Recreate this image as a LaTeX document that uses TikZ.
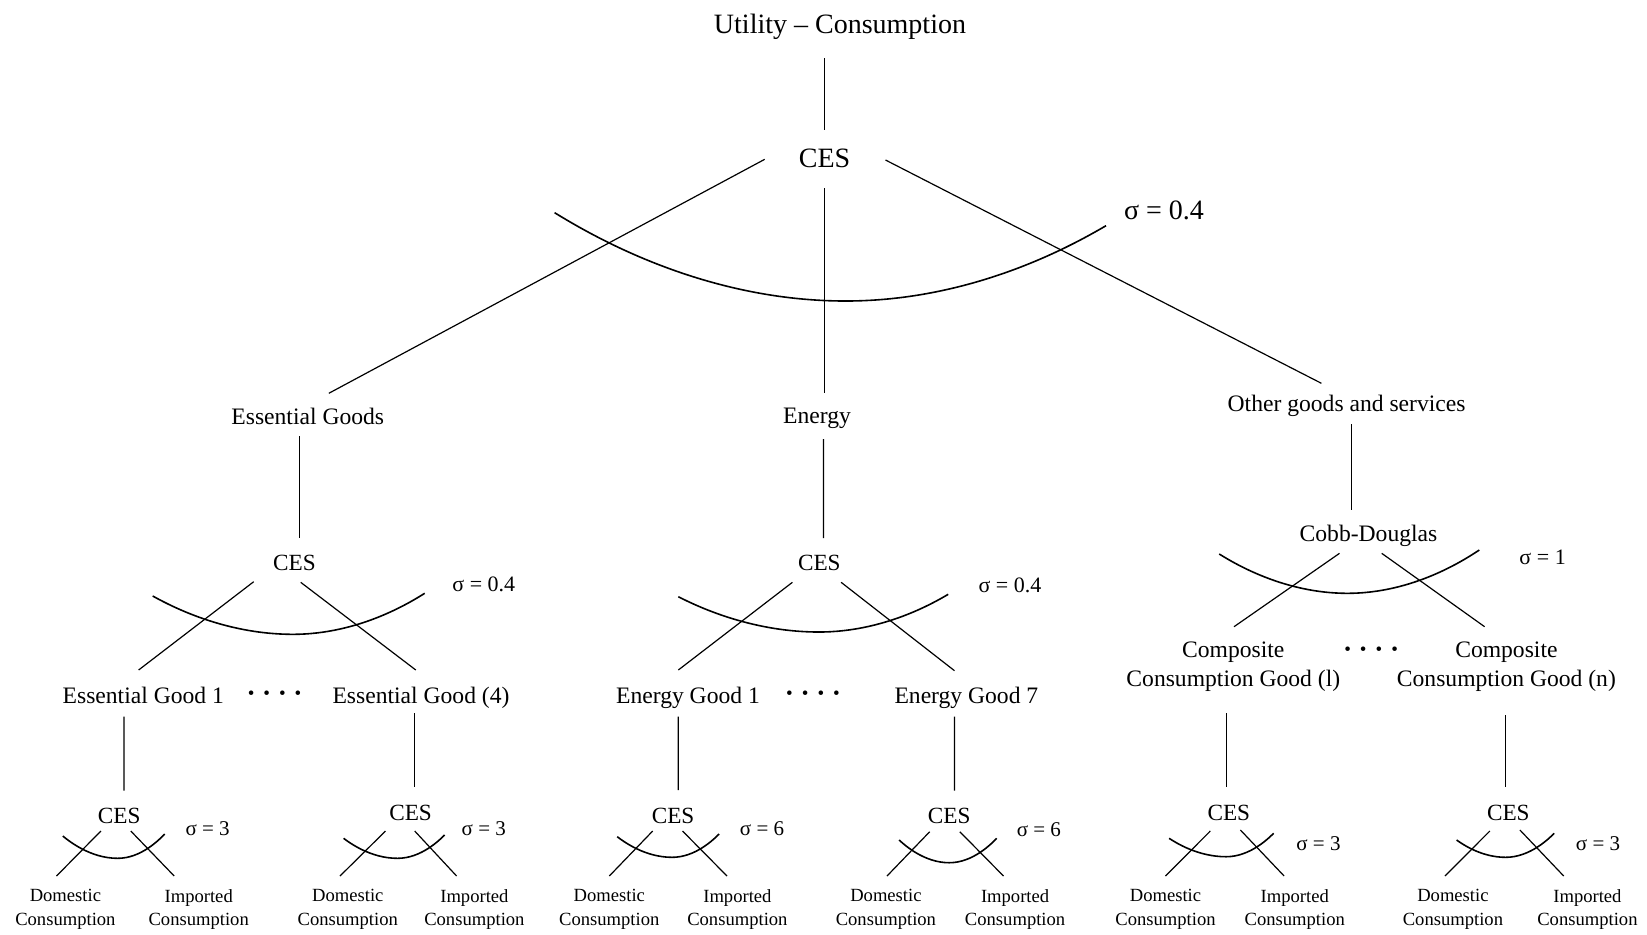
\documentclass[tikz,border=0pt]{standalone}
\usepackage{fontspec}
\setmainfont{Liberation Serif}
\tikzset{
  every node/.style={inner sep=0pt},
  head/.style={font=\fontsize{14}{17}\selectfont},
  branch/.style={font=\fontsize{11.8}{14.5}\selectfont},
  func/.style={font=\fontsize{11.6}{14}\selectfont},
  elast/.style={font=\fontsize{11}{13}\selectfont},
  small/.style={font=\fontsize{10.5}{12}\selectfont},
  leaf/.style={font=\fontsize{9.3}{11.7}\selectfont, align=center},
  dots/.style={font=\fontsize{9.5}{11}\selectfont},
  link/.style={line width=0.6pt},
  bow/.style={line width=0.8pt}
}

\begin{document}
\begin{tikzpicture}[x=0.5pt, y=-0.5pt]
  \useasboundingbox (0,0) rectangle (1647,934);

  % top level
  \node[head] (util) at (840,27) {Utility -- Consumption};
  \node[head] (ces0) at (824.6,158.5) {CES};
  \node[head] (sig0) at (1164,210) {σ = 0.4};

  % second level
  \node[branch] (ess) at (307.8,416.7) {Essential Goods};
  \node[branch] (ene) at (817,418) {Energy};
  \node[branch] (oth) at (1346.6,406) {Other goods and services};

  % third level
  \node[func] (cesE) at (294.5,563) {CES};
  \node[elast] (sigE) at (483.8,584) {σ = 0.4};
  \node[func] (cesN) at (819.3,563) {CES};
  \node[elast] (sigN) at (1009.9,585) {σ = 0.4};
  \node[branch] (cd) at (1368.5,536) {Cobb-Douglas};
  \node[elast] (sigO) at (1542.6,557.3) {σ = 1};

  % goods
  \node[branch] (eg1) at (143.3,695) {Essential Good 1};
  \node[dots] (edots) at (274.6,695) {\textbullet\hspace{4.5pt}\textbullet\hspace{4.5pt}\textbullet\hspace{4.5pt}\textbullet};
  \node[branch] (eg4) at (421,697.5) {Essential Good (4)};
  \node[branch] (ng1) at (688,698) {Energy Good 1};
  \node[dots] (ndots) at (813,695) {\textbullet\hspace{4.5pt}\textbullet\hspace{4.5pt}\textbullet\hspace{4.5pt}\textbullet};
  \node[branch] (ng7) at (966.4,697.5) {Energy Good 7};
  \node[branch, align=center] (cc1) at (1233.3,666.2) {Composite\\Consumption Good (l)};
  \node[dots] (odots) at (1371.1,651.7) {\textbullet\hspace{4.5pt}\textbullet\hspace{4.5pt}\textbullet\hspace{4.5pt}\textbullet};
  \node[branch, align=center] (ccn) at (1506.4,666.2) {Composite\\Consumption Good (n)};

  % bottom level
  \node[func] (cesE1) at (119.2,816) {CES};
  \node[small] (sigE1) at (207.6,828.3) {σ = 3};
  \node[leaf] (domE1) at (65.4,909.3) {Domestic\\Consumption};
  \node[leaf] (impE1) at (198.7,909.3) {Imported\\Consumption};
  \node[func] (cesE4) at (410.6,812.7) {CES};
  \node[small] (sigE4) at (483.8,828.3) {σ = 3};
  \node[leaf] (domE4) at (347.8,909.3) {Domestic\\Consumption};
  \node[leaf] (impE4) at (474.4,909.3) {Imported\\Consumption};
  \node[func] (cesN1) at (673.1,816) {CES};
  \node[small] (sigN1) at (762,828.3) {σ = 6};
  \node[leaf] (domN1) at (609.3,909.3) {Domestic\\Consumption};
  \node[leaf] (impN1) at (737.4,909.3) {Imported\\Consumption};
  \node[func] (cesN7) at (949.2,816) {CES};
  \node[small] (sigN7) at (1038.9,829.3) {σ = 6};
  \node[leaf] (domN7) at (885.9,909.3) {Domestic\\Consumption};
  \node[leaf] (impN7) at (1015.1,909.3) {Imported\\Consumption};
  \node[func] (cesC1) at (1228.8,812.7) {CES};
  \node[small] (sigC1) at (1318.4,843.3) {σ = 3};
  \node[leaf] (domC1) at (1165.5,909.3) {Domestic\\Consumption};
  \node[leaf] (impC1) at (1294.7,909.3) {Imported\\Consumption};
  \node[func] (cesCn) at (1508.3,812.7) {CES};
  \node[small] (sigCn) at (1598,843.3) {σ = 3};
  \node[leaf] (domCn) at (1452.9,909.3) {Domestic\\Consumption};
  \node[leaf] (impCn) at (1587.4,909.3) {Imported\\Consumption};

  % upper connectors
  \draw[link] ([shift={(-15.4,31)}]util.center) -- ([shift={(0,-28.5)}]ces0.center);
  \draw[link] ([shift={(-59.9,0.8)}]ces0.center) -- ([shift={(21,-23.4)}]ess.center);
  \draw[link] ([shift={(0,29.5)}]ces0.center) -- ([shift={(7.6,-25)}]ene.center);
  \draw[link] ([shift={(60.9,1.5)}]ces0.center) -- ([shift={(-25.2,-22.7)}]oth.center);
  \draw[link] ([shift={(-8.6,19.3)}]ess.center) -- ([shift={(4.7,-25)}]cesE.center);
  \draw[link] ([shift={(6.5,21)}]ene.center) -- ([shift={(4.2,-25)}]cesN.center);
  \draw[link] ([shift={(5,18)}]oth.center) -- ([shift={(-16.9,-26)}]cd.center);

  % goods connectors
  \draw[link] ([shift={(-40.8,18.7)}]cesE.center) -- ([shift={(-4.7,-25)}]eg1.center);
  \draw[link] ([shift={(6.2,19.3)}]cesE.center) -- ([shift={(-5.2,-27.5)}]eg4.center);
  \draw[link] ([shift={(-26.9,19.3)}]cesN.center) -- ([shift={(-9.7,-28)}]ng1.center);
  \draw[link] ([shift={(21.8,19.3)}]cesN.center) -- ([shift={(-11.9,-26.8)}]ng7.center);
  \draw[link] ([shift={(-29,17.3)}]cd.center) -- ([shift={(0.7,-39.5)}]cc1.center);
  \draw[link] ([shift={(13.2,17.3)}]cd.center) -- ([shift={(-21.8,-39.5)}]ccn.center);
  \draw[link] ([shift={(-19.3,21.7)}]eg1.center) -- ([shift={(4.8,-25.3)}]cesE1.center);
  \draw[link] ([shift={(-6.3,15.8)}]eg4.center) -- ([shift={(4.1,-25.4)}]cesE4.center);
  \draw[link] ([shift={(-9.7,18.7)}]ng1.center) -- ([shift={(5.2,-26)}]cesN1.center);
  \draw[link] ([shift={(-11.9,19.2)}]ng7.center) -- ([shift={(5.3,-25.3)}]cesN7.center);
  \draw[link] ([shift={(-7.2,47.1)}]cc1.center) -- ([shift={(-2.7,-25.4)}]cesC1.center);
  \draw[link] ([shift={(-0.8,48.8)}]ccn.center) -- ([shift={(-2.7,-25.4)}]cesCn.center);

  % domestic / imported connectors
  \draw[link] ([shift={(-18.3,15)}]cesE1.center) -- ([shift={(-8.9,-33.3)}]domE1.center);
  \draw[link] ([shift={(11.6,15)}]cesE1.center) -- ([shift={(-24.5,-33.3)}]impE1.center);
  \draw[link] ([shift={(-25.1,18.3)}]cesE4.center) -- ([shift={(-7.8,-33.3)}]domE4.center);
  \draw[link] ([shift={(4.1,18.3)}]cesE4.center) -- ([shift={(-17.8,-33.3)}]impE4.center);
  \draw[link] ([shift={(-20.4,15)}]cesN1.center) -- ([shift={(0,-33.3)}]domN1.center);
  \draw[link] ([shift={(9.4,15)}]cesN1.center) -- ([shift={(-10.4,-33.3)}]impN1.center);
  \draw[link] ([shift={(-19.5,15.7)}]cesN7.center) -- ([shift={(1.1,-33.3)}]domN7.center);
  \draw[link] ([shift={(10.6,15.7)}]cesN7.center) -- ([shift={(-11.6,-33.3)}]impN7.center);
  \draw[link] ([shift={(-18.5,18.3)}]cesC1.center) -- ([shift={(0,-33.3)}]domC1.center);
  \draw[link] ([shift={(11.6,17.3)}]cesC1.center) -- ([shift={(-10.6,-33.3)}]impC1.center);
  \draw[link] ([shift={(-18.5,18.3)}]cesCn.center) -- ([shift={(-7.9,-33.3)}]domCn.center);
  \draw[link] ([shift={(11.6,17.3)}]cesCn.center) -- ([shift={(-23.7,-33.3)}]impCn.center);

  % elasticity arcs
  \draw[bow, shift={(ces0.center)}] (-270,54.2) parabola bend (21,142.5) (281.4,67.2);
  \draw[bow, shift={(cesE.center)}] (-141.8,33) parabola bend (-1.6,71.3) (130.2,30.3);
  \draw[bow, shift={(cesN.center)}] (-141,33.7) parabola bend (-0.3,69) (128.9,31.3);
  \draw[bow, shift={(cd.center)}] (-149.3,18) parabola bend (-21.1,57.3) (110.8,14);
  \draw[bow, shift={(cesE1.center)}] (-56.4,20) parabola bend (-1.5,42.3) (45.5,18);
  \draw[bow, shift={(cesE4.center)}] (-67,25.6) parabola bend (-13.1,45.6) (34,22.3);
  \draw[bow, shift={(cesN1.center)}] (-55.9,20.7) parabola bend (-1,41.3) (46,18);
  \draw[bow, shift={(cesN7.center)}] (-50.1,24) parabola bend (0,46.7) (47.5,22.3);
  \draw[bow, shift={(cesC1.center)}] (-59.7,25.6) parabola bend (-2.7,44) (44.8,20.6);
  \draw[bow, shift={(cesCn.center)}] (-51.7,27.3) parabola bend (-2.7,44.6) (45.9,20.6);
\end{tikzpicture}
\end{document}
